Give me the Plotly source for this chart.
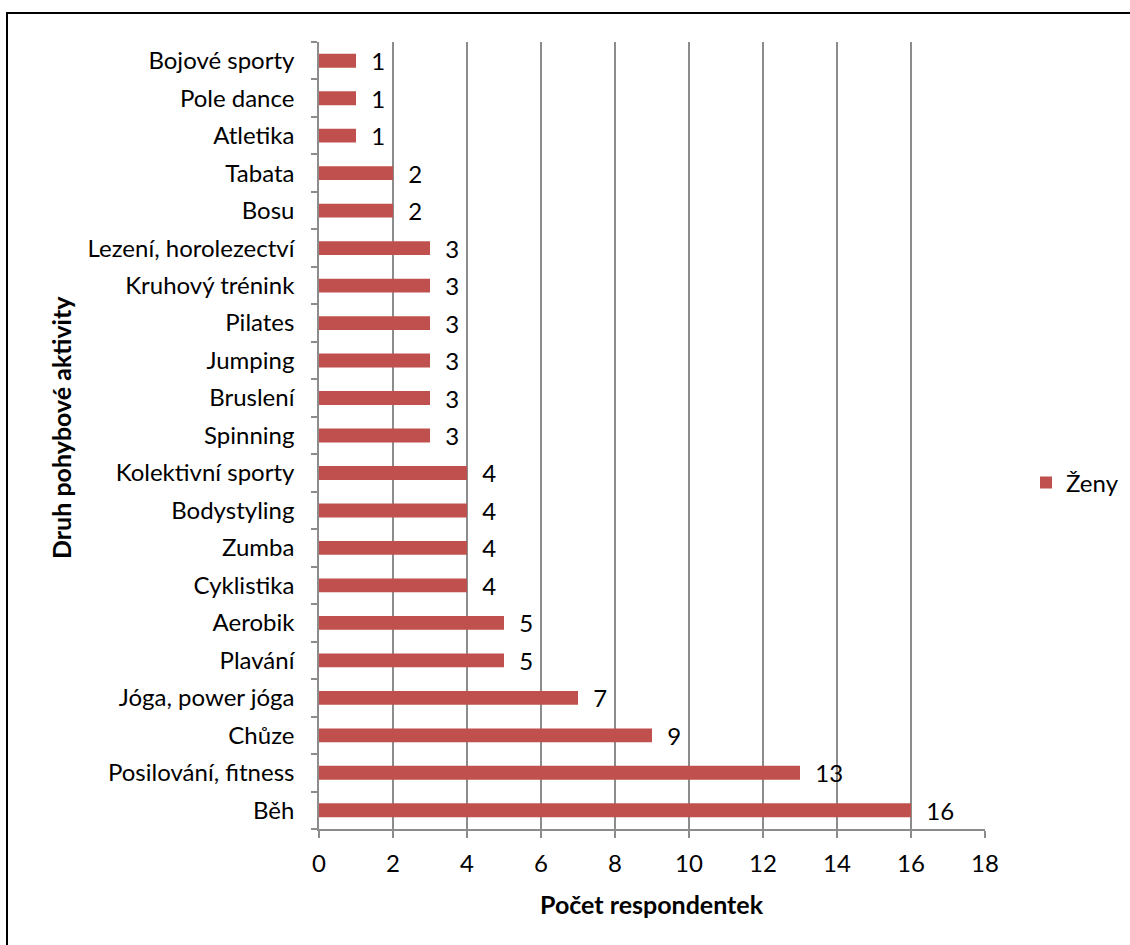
import plotly.graph_objects as go

# Activities listed bottom-to-top (first category sits at the bottom of the axis)
activities = [
    "Běh", "Posilování, fitness", "Chůze", "Jóga, power jóga", "Plavání",
    "Aerobik", "Cyklistika", "Zumba", "Bodystyling", "Kolektivní sporty",
    "Spinning", "Bruslení", "Jumping", "Pilates", "Kruhový trénink",
    "Lezení, horolezectví", "Bosu", "Tabata", "Atletika", "Pole dance",
    "Bojové sporty",
]
counts = [16, 13, 9, 7, 5, 5, 4, 4, 4, 4, 3, 3, 3, 3, 3, 3, 2, 2, 1, 1, 1]
series_name = "Ženy"
x_ticks = list(range(0, 19, 2))

FONT = "Lato, Carlito, Calibri, sans-serif"
FS = 24
FS_TITLE = 25
BAR = "#C0504D"
GRID = "#8C8C8C"

W, H = 1130, 945
ML, MR, MT, MB = 319, 145, 42, 116
PW, PH = W - ML - MR, H - MT - MB


def px_x(p):
    return (p - ML) / PW


def px_y(p):
    return (H - MB - p) / PH


fig = go.Figure(
    go.Bar(
        x=counts,
        y=activities,
        orientation="h",
        name=series_name,
        marker=dict(color=BAR, line=dict(width=0)),
        text=counts,
        texttemplate="\u00a0\u00a0%{x}",
        textposition="outside",
        constraintext="none",
        cliponaxis=False,
        textfont=dict(family=FONT, size=FS, color="#000000"),
        showlegend=True,
    )
)

fig.update_layout(
    width=W,
    height=H,
    margin=dict(l=ML, r=MR, t=MT, b=MB, autoexpand=False),
    paper_bgcolor="white",
    plot_bgcolor="white",
    bargap=0.63,
    font=dict(family=FONT, size=FS, color="#000000"),
    legend=dict(
        x=px_x(1026), y=px_y(483), xanchor="left", yanchor="middle",
        font=dict(family=FONT, size=FS, color="#000000"),
        itemwidth=30, bgcolor="rgba(0,0,0,0)",
    ),
    xaxis=dict(
        range=[0, 18],
        tickvals=x_ticks,
        showgrid=True, gridcolor=GRID, gridwidth=1.5,
        zeroline=False,
        showline=True, linecolor=GRID, linewidth=1.5,
        ticks="outside", ticklen=7, tickcolor=GRID, tickwidth=1.5,
        tickfont=dict(family=FONT, size=FS, color="#000000"),
        ticklabelstandoff=5,
        fixedrange=True,
    ),
    yaxis=dict(
        type="category",
        categoryorder="array", categoryarray=activities,
        showgrid=False, zeroline=False,
        showline=True, linecolor=GRID, linewidth=1.5,
        ticks="outside", ticklen=6, tickcolor=GRID, tickwidth=1.5,
        tickson="boundaries",
        tickfont=dict(family=FONT, size=FS, color="#000000"),
        ticklabelstandoff=18,
        fixedrange=True,
    ),
    annotations=[
        dict(
            text="<b>Počet respondentek</b>", xref="paper", yref="paper",
            x=0.5, y=px_y(904), xanchor="center", yanchor="middle",
            showarrow=False, font=dict(family=FONT, size=FS_TITLE, color="#000000"),
        ),
        dict(
            text="<b>Druh pohybové aktivity</b>", xref="paper", yref="paper",
            x=px_x(61), y=px_y(428), xanchor="center", yanchor="middle",
            textangle=-90, showarrow=False,
            font=dict(family=FONT, size=FS_TITLE, color="#000000"),
        ),
    ],
    shapes=[
        dict(
            type="rect", xref="paper", yref="paper",
            x0=px_x(7), y0=px_y(990), x1=px_x(1180), y1=px_y(13),
            line=dict(color="#000000", width=2), fillcolor="rgba(0,0,0,0)",
            layer="above",
        )
    ],
)

fig.write_html("out.html")
